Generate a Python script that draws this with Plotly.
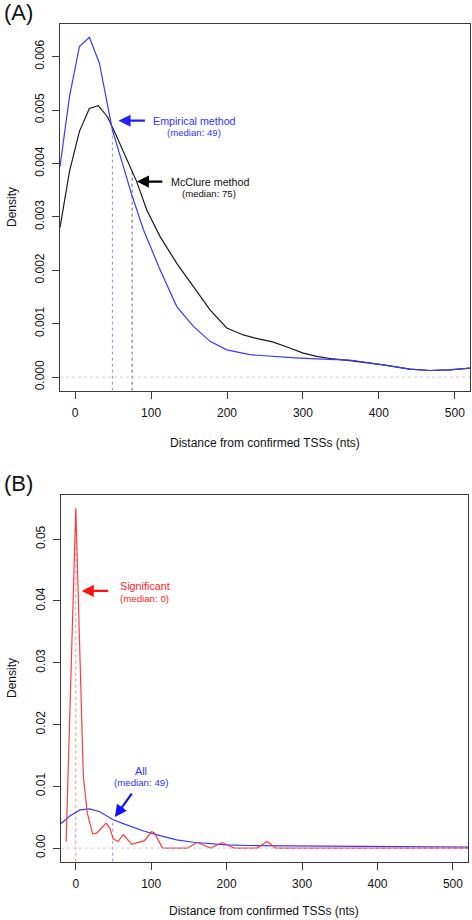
import numpy as np
import plotly.graph_objects as go

# ---------------- data ----------------
# Panel A: density of distances (nts) from confirmed TSSs
emp_x = [-20, -7.5, 5.6, 18.7, 31.8, 40, 49, 62, 74.6, 89.9, 111.8, 133.8, 155.7, 177.6,
         199.6, 230, 256.6, 290, 318, 361.8, 405.7, 440.8, 467, 493, 520]
emp_y = [0.00394, 0.00525, 0.00619, 0.00636, 0.00588, 0.00528, 0.00463, 0.00401, 0.00341,
         0.00276, 0.00201, 0.00132, 0.00095, 0.00067, 0.00051, 0.00042, 0.00039, 0.00036,
         0.00034, 0.00032, 0.00023, 0.00015, 0.000124, 0.000137, 0.00017]

mcc_x = [-20, -7.5, 5.6, 18.7, 30.5, 42.7, 52.6, 64, 75, 81, 94.3, 111.8, 133.8, 155.7,
         177.6, 199.6, 221.4, 240, 260, 280, 300.4, 318, 340, 361.8, 405.7, 440.8, 467, 493, 520]
mcc_y = [0.00280, 0.00385, 0.00460, 0.00503, 0.00508, 0.00487, 0.00457, 0.00420, 0.00385,
         0.00366, 0.00313, 0.00263, 0.00213, 0.00170, 0.00126, 0.00092, 0.00079, 0.00072,
         0.00066, 0.00056, 0.00045, 0.00039, 0.00034, 0.00031, 0.00023, 0.00015, 0.000124,
         0.000137, 0.00017]

# Panel B
sig_x = [-12.8, 0, 10, 15.3, 22.4, 27.7, 40, 45.3, 49.6, 56, 63, 74, 91, 100.5, 104, 111,
         115, 148, 161, 179, 194, 210, 240, 254, 265, 520]
sig_y = [0.00107, 0.0550, 0.0116, 0.00566, 0.00231, 0.00243, 0.00405, 0.0032, 0.00150,
         0.00107, 0.00220, 0.00060, 0.00120, 0.00264, 0.00250, 0.00086, 0.0, 0.0, 0.0009,
         0.0, 0.0009, 0.0, 0.0, 0.00107, 0.0, 0.0]

all_x = emp_x
all_y = emp_y

medians = {"emp": 49, "mcc": 75, "sig": 0, "all": 49}

x_ticks = [0, 100, 200, 300, 400, 500]
yA_ticks = [0, 0.001, 0.002, 0.003, 0.004, 0.005, 0.006]
yB_ticks = [0, 0.01, 0.02, 0.03, 0.04, 0.05]

x_range = [-20, 520]
yA_range = [-0.000254, 0.00661]
yB_range = [-0.0022, 0.0572]

BLUE = "#3a3aff"
BLACK = "#1a1a1a"
RED = "#ff3c3c"
FONT = "Liberation Sans, Arial, Helvetica, sans-serif"
W, H = 472, 920

fig = go.Figure()

def curve(x, y, color, xa, ya):
    fig.add_trace(go.Scatter(x=x, y=y, mode="lines", line=dict(color=color, width=1.2),
                             xaxis=xa, yaxis=ya, hoverinfo="skip"))

def vline(m, xs, ys, ybot, color, xa, ya):
    top = float(np.interp(m, xs, ys))
    fig.add_trace(go.Scatter(x=[m, m], y=[ybot, top], mode="lines",
                             line=dict(color=color, width=1, dash="dot"),
                             xaxis=xa, yaxis=ya, hoverinfo="skip"))

# zero reference lines
for xr, yr in (("x domain", "y"), ("x2 domain", "y2")):
    fig.add_shape(type="line", xref=xr, yref=yr, x0=0, x1=1, y0=0, y1=0,
                  line=dict(color="#cfcfcf", width=1, dash="dot"))

# Panel A
vline(medians["emp"], emp_x, emp_y, yA_range[0], "#8a8aff", "x", "y")
vline(medians["mcc"], mcc_x, mcc_y, yA_range[0], "#666666", "x", "y")
curve(mcc_x, mcc_y, BLACK, "x", "y")
curve(emp_x, emp_y, BLUE, "x", "y")

# Panel B
vline(medians["sig"], sig_x, sig_y, yB_range[0], "#ff8a8a", "x2", "y2")
vline(medians["all"], all_x, all_y, yB_range[0], "#8a8aff", "x2", "y2")
curve(all_x, all_y, BLUE, "x2", "y2")
curve(sig_x, sig_y, RED, "x2", "y2")

axis_common = dict(showgrid=False, zeroline=False, showline=True, mirror=True,
                   linecolor="#3a3a3a", linewidth=1, ticks="outside", ticklen=7,
                   tickwidth=1, tickcolor="#3a3a3a",
                   tickfont=dict(family=FONT, size=12, color="#111"))

fig.update_layout(
    width=W, height=H, margin=dict(l=0, r=0, t=0, b=0),
    paper_bgcolor="white", plot_bgcolor="white", showlegend=False,
    xaxis=dict(domain=[60 / W, 470 / W], range=x_range, tickvals=x_ticks,
               anchor="y", ticklabelstandoff=4, **axis_common),
    yaxis=dict(domain=[1 - 390.7 / H, 1 - 24 / H], range=yA_range, tickvals=yA_ticks,
               tickformat=".3f", tickangle=-90, anchor="x", ticklabelstandoff=3,
               **axis_common),
    xaxis2=dict(domain=[60.7 / W, 468 / W], range=x_range, tickvals=x_ticks,
                anchor="y2", ticklabelstandoff=4, **axis_common),
    yaxis2=dict(domain=[1 - 861.7 / H, 1 - 494.7 / H], range=yB_range, tickvals=yB_ticks,
                tickformat=".2f", tickangle=-90, anchor="x2", ticklabelstandoff=3,
                **axis_common),
)

ann = []
def ptext(text, px, py, size, xanchor="center", angle=0, color="#111"):
    ann.append(dict(text=text, x=px / W, y=1 - py / H, xref="paper", yref="paper",
                    showarrow=False, xanchor=xanchor, yanchor="middle", textangle=angle,
                    font=dict(family=FONT, size=size, color=color)))

ptext("(A)", 2, 13, 22, xanchor="left")
ptext("(B)", 2, 484, 22, xanchor="left")
ptext("Density", 12, 207, 12, angle=-90)
ptext("Density", 12, 678, 12, angle=-90)
ptext("Distance from confirmed TSSs (nts)", 265, 442.7, 12)
ptext("Distance from confirmed TSSs (nts)", 264, 910.7, 12)

def dtext(text, x, y, xa, ya, size, color, xanchor="center"):
    ann.append(dict(text=text, x=x, y=y, xref=xa, yref=ya, showarrow=False,
                    xanchor=xanchor, yanchor="middle",
                    font=dict(family=FONT, size=size, color=color)))

def arrow(x, y, ax, ay, xa, ya, color):
    ann.append(dict(text="", x=x, y=y, xref=xa, yref=ya, ax=ax, ay=ay, showarrow=True,
                    arrowhead=2, arrowsize=1.1, arrowwidth=2.2, arrowcolor=color,
                    standoff=0, startstandoff=0))

# Panel A labels
dtext("Empirical method", 157, 0.00480, "x", "y", 10.7, "#3333ff")
dtext("(median: 49)", 156.6, 0.00458, "x", "y", 9.6, "#3333ff")
arrow(57.0, 0.00480, 28, 0, "x", "y", "#2222ff")
dtext("McClure method", 177.2, 0.00366, "x", "y", 10.7, "#111")
dtext("(median: 75)", 176.7, 0.00343, "x", "y", 9.6, "#111")
arrow(81.2, 0.00366, 27, 0, "x", "y", "#000")

# Panel B labels
dtext("Significant", 55.4, 0.04244, "x2", "y2", 10.8, "#ff2020", xanchor="left")
dtext("(median: 0)", 55.4, 0.04045, "x2", "y2", 9.7, "#ff2020", xanchor="left")
arrow(7.9, 0.04163, 28, 0, "x2", "y2", "#ff1010")
dtext("All", 87.1, 0.01256, "x2", "y2", 10.8, "#3333ff")
dtext("(median: 49)", 87.1, 0.01061, "x2", "y2", 9.7, "#3333ff")
arrow(51.8, 0.00502, 18, -25, "x2", "y2", "#1010ff")

fig.update_layout(annotations=ann)
fig.write_html("out.html", config={"displayModeBar": False},
               post_script="document.body.style.margin='0';document.body.style.overflow='hidden';")
